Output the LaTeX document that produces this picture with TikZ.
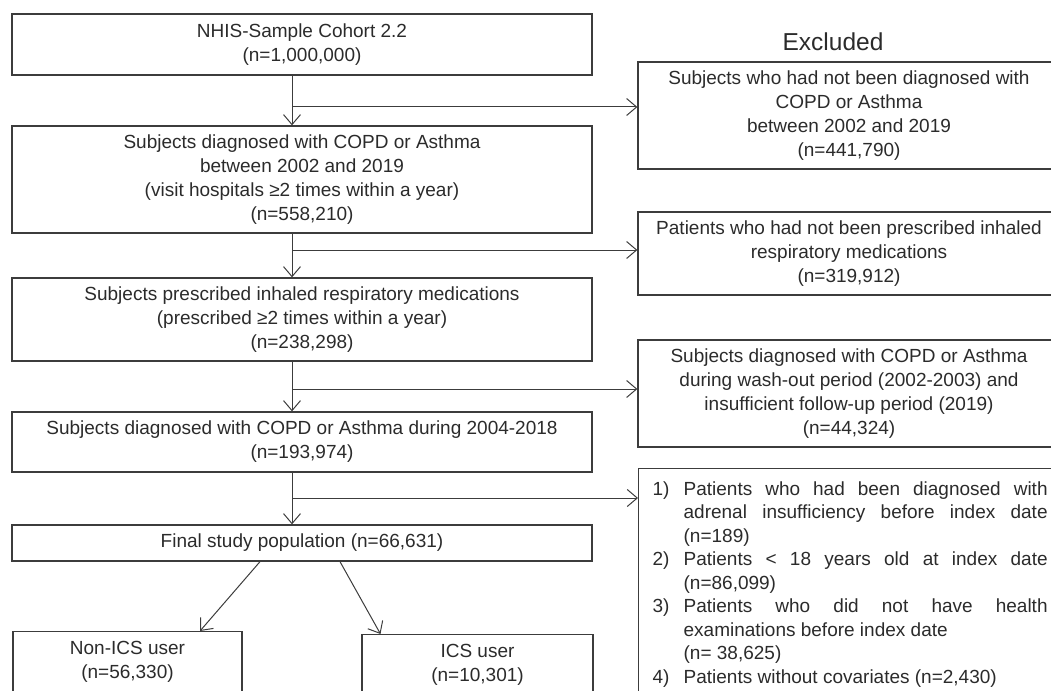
\documentclass[tikz,border=0pt]{standalone}
\usepackage{fontspec}
\setmainfont{Liberation Sans}
\usepackage{xcolor}
\usetikzlibrary{arrows.meta}
\definecolor{linegray}{HTML}{3C3C3C}
\definecolor{textgray}{HTML}{2B2B2B}
\newcommand\exitem[1]{\par\noindent\hangindent=31pt\hangafter=1\makebox[31pt][l]{#1}}

\begin{document}
\begin{tikzpicture}[x=1pt, y=-1pt, every node/.style={text=textgray, font=\fontsize{19}{24}\selectfont},%
        box/.style={draw=linegray, line width=1.3pt, align=center, inner sep=0pt, minimum width=580pt},
        exbox/.style={box, minimum width=422pt},
        arr/.style={draw=linegray, line width=1pt, -{Straight Barb[length=10pt,width=17pt]}}]
    \useasboundingbox (0,0) rectangle (1051,690);
    % main flow
    \node[box, minimum height=61pt] (nhis) at (302,44.5) {NHIS-Sample Cohort 2.2\\(n=1,000,000)};
    \node[box, minimum height=107pt] (diag) at (302,179.5) {Subjects diagnosed with COPD or Asthma\\between 2002 and 2019\\(visit hospitals ≥2 times within a year)\\(n=558,210)};
    \node[box, minimum height=83pt] (presc) at (302,319.5) {Subjects prescribed inhaled respiratory medications\\(prescribed ≥2 times within a year)\\(n=238,298)};
    \node[box, minimum height=60pt] (period) at (302,442) {Subjects diagnosed with COPD or Asthma during 2004-2018\\(n=193,974)};
    \node[box, minimum height=36pt] (final) at (302,543) {Final study population (n=66,631)};
    \node[box, minimum width=229pt, anchor=north, inner ysep=10pt, text depth=60pt] (nonics) at (127.5,631) {Non-ICS user\\(n=56,330)};
    \node[box, minimum width=231pt, anchor=north, inner ysep=10pt, text depth=60pt] (ics) at (477.5,634) {ICS user\\(n=10,301)};
    % excluded
    \node[font=\fontsize{24.5}{28}\selectfont] (exlabel) at (833,42) {Excluded};
    \node[exbox, minimum height=107pt] (exc1) at (849,115.5) {Subjects who had not been diagnosed with\\COPD or Asthma\\between 2002 and 2019\\(n=441,790)};
    \node[exbox, minimum height=83pt] (exc2) at (849,253.5) {Patients who had not been prescribed inhaled\\respiratory medications\\(n=319,912)};
    \node[exbox, minimum height=107pt] (exc3) at (849,393.5) {Subjects diagnosed with COPD or Asthma\\during wash-out period (2002-2003) and\\insufficient follow-up period (2019)\\(n=44,324)};
    \node[box, align=justify, anchor=north west, text width=395pt, minimum width=0pt, inner xsep=14pt, inner ysep=3pt, text depth=230pt, font=\fontsize{19}{23.5}\selectfont] (exc4) at (638,468) {%
        \exitem{1)}Patients who had been diagnosed with\linebreak adrenal insufficiency before index date\linebreak (n=189)
        \exitem{2)}Patients < 18 years old at index date\linebreak (n=86,099)
        \exitem{3)}Patients who did not have health\linebreak examinations before index date\\(n= 38,625)
        \exitem{4)}Patients without covariates (n=2,430)};
    % arrows
    \coordinate (b1) at (292,107);
    \coordinate (b2) at (292,250);
    \coordinate (b3) at (292,389);
    \coordinate (b4) at (292,498);
    \draw[arr] ([xshift=-10pt]nhis.south) -- ([xshift=-10pt]diag.north);
    \draw[arr] ([xshift=-10pt]diag.south) -- ([xshift=-10pt]presc.north);
    \draw[arr] ([xshift=-10pt]presc.south) -- ([xshift=-10pt]period.north);
    \draw[arr] ([xshift=-10pt]period.south) -- ([xshift=-10pt]final.north);
    \draw[arr] (b1) -- (b1 -| exc1.west);
    \draw[arr] (b2) -- (b2 -| exc2.west);
    \draw[arr] (b3) -- (b3 -| exc3.west);
    \draw[arr] (b4) -- (b4 -| exc4.west);
    \draw[arr] ([xshift=-42pt]final.south) -- ([xshift=72.5pt]nonics.north);
    \draw[arr] ([xshift=38pt]final.south) -- ([xshift=-97pt]ics.north);
\end{tikzpicture}
\end{document}
